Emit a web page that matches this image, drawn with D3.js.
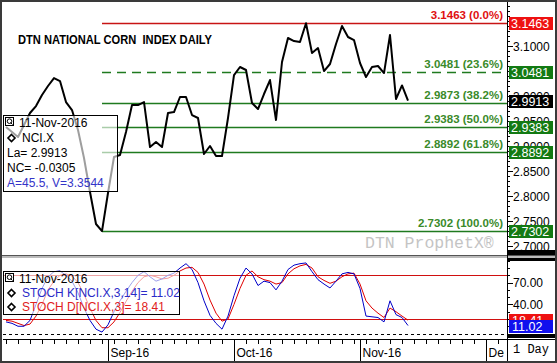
<!DOCTYPE html>
<html>
<head>
<meta charset="utf-8">
<script src="https://cdn.jsdelivr.net/npm/d3@7"></script>
<style>
  html, body { margin: 0; padding: 0; background: #fff; }
  svg { display: block; font-family: "Liberation Sans", Arial, sans-serif; }
</style>
</head>
<body>
<div id="chart"></div>
<script>
// daily closes, Aug 9 2016 .. Nov 11 2016 (trading days)
const closes = [2.9386, 2.9285, 2.9185, 2.9426, 2.9666, 2.9806, 3.0027, 3.0207, 3.0367, 3.0307,
  2.9886, 2.9726, 2.9326, 2.8765, 2.8084, 2.7443, 2.7302, 2.8064, 2.8785, 2.8825,
  2.9285, 2.9826, 2.9826, 2.9886, 2.8985, 2.9085, 2.8985, 2.9666, 2.9686, 2.9987,
  2.9987, 2.9626, 2.9566, 2.8845, 2.9005, 2.8805, 2.8805, 2.9566, 3.0427, 3.0588,
  3.0528, 2.9866, 2.9746, 3.0047, 3.0327, 2.9526, 3.0688, 3.1169, 3.1108, 3.1088,
  3.1463, 3.0868, 3.0968, 3.0507, 3.0648, 3.1048, 3.1409, 3.1189, 3.1128, 3.0668,
  3.0387, 3.0588, 3.0608, 3.0467, 3.1229, 2.9947, 3.0218, 2.9913];

const stochK = [16, 14, 10, 10, 18, 40, 62, 78, 85, 86,
  80, 72, 56, 35, 18, 6, 2, 12, 30, 45,
  58, 70, 80, 85, 78, 72, 75, 80, 83, 90,
  96, 88, 70, 45, 25, 14, 6, 24, 52, 76,
  90, 82, 66, 72, 70, 60, 72, 88, 94, 96,
  97, 85, 74, 68, 62.6, 72, 82, 84, 82, 62,
  24, 23, 22, 16, 45, 26, 22, 11.02];

const stochD = [18, 17, 14, 11, 13, 24, 40, 60, 72, 80,
  82, 79, 70, 54, 35, 18, 8, 8, 16, 29,
  44, 58, 70, 78, 80, 78, 75, 76, 80, 86,
  90, 91, 84, 68, 46, 28, 17, 20, 40, 62,
  80, 86, 78, 74, 72, 68, 70, 82, 89, 93,
  95, 90, 78, 73, 69, 72, 78, 82, 83, 68,
  45, 35, 28, 22, 35, 30, 24, 18.41];

const fibLevels = [3.1463, 3.0481, 2.9873, 2.9383, 2.8892, 2.7302];
const fibPct = ["0.0%", "23.6%", "38.2%", "50.0%", "61.8%", "100.0%"];
const fibStartIdx = 16;

const priceTicks = [3.10, 3.05, 3.00, 2.95, 2.90, 2.85, 2.80, 2.75, 2.70];
const stochTicks = [70, 40, 10];
const stochBands = [80, 20];

const monthLabels = ["Sep-16", "Oct-16", "Nov-16", "Dec-16"];
const monthStartIdx = [17, 38, 59, 80];

const lastClose = 2.9913;

const width = 557,
  height = 363,
  plotLeft = 3,
  plotRight = 507,
  mainTop = 3,
  mainBottom = 255,
  lowTop = 258,
  lowBottom = 339,
  axisBottom = 361;

const green = "#1f7a1f",
  fibText = "#3a8a2a",
  red = "#e01010";

const x = d3.scaleLinear().domain([-0.5, 83.5]).range([plotLeft, plotRight]);
const yP = d3.scaleLinear().domain([2.6822, 3.1870]).range([mainBottom, mainTop]);
const yS = d3.scaleLinear().domain([-7.5, 103.8]).range([lowBottom, lowTop]);

const svg = d3.select("#chart").append("svg")
  .attr("width", width)
  .attr("height", height);

svg.append("rect").attr("width", width).attr("height", height).attr("fill", "#fff");

// ---- main panel ----
svg.append("clipPath").attr("id", "clipMain")
  .append("rect").attr("x", plotLeft).attr("y", mainTop)
  .attr("width", plotRight - plotLeft).attr("height", mainBottom - mainTop);

svg.append("text")
  .attr("x", 18).attr("y", 44)
  .attr("font-weight", "bold").attr("font-size", 13)
  .attr("textLength", 194).attr("lengthAdjust", "spacingAndGlyphs")
  .style("white-space", "pre")
  .text("DTN NATIONAL CORN  INDEX DAILY");

svg.append("text")
  .attr("x", 365).attr("y", 248)
  .attr("font-family", "'Liberation Mono', 'Courier New', monospace")
  .attr("font-size", 16.5).attr("fill", "#c4c4c4")
  .text("DTN ProphetX\u00ae");

const fibG = svg.append("g").attr("class", "fib");
fibLevels.forEach((v, i) => {
  fibG.append("line")
    .attr("x1", x(fibStartIdx)).attr("x2", plotRight)
    .attr("y1", Math.round(yP(v)) + 0.5).attr("y2", Math.round(yP(v)) + 0.5)
    .attr("stroke", i === 0 ? "#c81414" : green)
    .attr("stroke-width", 1.3)
    .attr("stroke-dasharray", i === 1 ? "9,6" : null);
  fibG.append("text")
    .attr("x", 503).attr("y", yP(v) - 4)
    .attr("text-anchor", "end")
    .attr("font-weight", "bold").attr("font-size", 11.5)
    .attr("fill", i === 0 ? red : fibText)
    .text(`${v.toFixed(4)} (${fibPct[i]})`);
});

const priceLine = d3.line().x((d, i) => x(i)).y(d => yP(d));
svg.append("path")
  .datum(closes)
  .attr("clip-path", "url(#clipMain)")
  .attr("fill", "none")
  .attr("stroke", "#000")
  .attr("stroke-width", 2)
  .attr("stroke-linejoin", "round")
  .attr("d", priceLine);

// legend box, upper
const leg1 = svg.append("g");
leg1.append("rect")
  .attr("x", 3.5).attr("y", 115.5).attr("width", 114).attr("height", 76)
  .attr("fill", "#fff").attr("fill-opacity", 0.62)
  .attr("stroke", "#000");
const icon = (g, x0, y0) => {
  g.append("rect").attr("x", x0 + 0.5).attr("y", y0 + 0.5).attr("width", 8).attr("height", 8)
    .attr("fill", "#fff").attr("stroke", "#000");
  g.append("circle").attr("cx", x0 + 4.5).attr("cy", y0 + 4.2).attr("r", 2.3)
    .attr("fill", "none").attr("stroke", "#000");
  g.append("line").attr("x1", x0 + 5.5).attr("y1", y0 + 5.5).attr("x2", x0 + 7.5).attr("y2", y0 + 7.5)
    .attr("stroke", "#000");
};
const diamond = (g, cx, cy) => {
  g.append("path")
    .attr("d", `M${cx},${cy - 3.5}L${cx + 3.5},${cy}L${cx},${cy + 3.5}L${cx - 3.5},${cy}Z`)
    .attr("fill", "#fff").attr("stroke", "#000").attr("stroke-width", 1.6);
};
icon(leg1, 5, 117);
const l1rows = [
  {t: "11-Nov-2016", x: 19, y: 127, c: "#000"},
  {t: "NCI.X", x: 22, y: 142, c: "#000"},
  {t: "La= 2.9913", x: 7, y: 157, c: "#000"},
  {t: "NC= -0.0305", x: 7, y: 172, c: "#000"},
  {t: "A=45.5, V=3.3544", x: 7, y: 187, c: "#3434c8"}
];
leg1.selectAll("text.row").data(l1rows).enter().append("text")
  .attr("class", "row")
  .attr("x", d => d.x).attr("y", d => d.y)
  .attr("font-size", 12).attr("fill", d => d.c)
  .text(d => d.t);
diamond(leg1, 11.5, 138);

// ---- lower panel ----
svg.append("clipPath").attr("id", "clipLow")
  .append("rect").attr("x", plotLeft).attr("y", lowTop)
  .attr("width", plotRight - plotLeft).attr("height", lowBottom - lowTop);

stochBands.forEach(v => {
  svg.append("line")
    .attr("x1", plotLeft).attr("x2", plotRight)
    .attr("y1", Math.round(yS(v)) + 0.5).attr("y2", Math.round(yS(v)) + 0.5)
    .attr("stroke", "#d01010").attr("stroke-width", 1);
});
svg.append("line")
  .attr("x1", plotLeft).attr("x2", plotRight)
  .attr("y1", Math.round(yS(0)) + 0.5).attr("y2", Math.round(yS(0)) + 0.5)
  .attr("stroke", "#000").attr("stroke-dasharray", "3,3");

const stochLine = d3.line().x((d, i) => x(i)).y(d => yS(d));
svg.append("path").datum(stochD)
  .attr("clip-path", "url(#clipLow)")
  .attr("fill", "none").attr("stroke", "#e00000").attr("stroke-width", 1)
  .attr("d", stochLine);
svg.append("path").datum(stochK)
  .attr("clip-path", "url(#clipLow)")
  .attr("fill", "none").attr("stroke", "#0000c8").attr("stroke-width", 1)
  .attr("d", stochLine);

const leg2 = svg.append("g");
leg2.append("rect")
  .attr("x", 3.5).attr("y", 271.5).attr("width", 176).attr("height", 43)
  .attr("fill", "#fff").attr("fill-opacity", 0.62)
  .attr("stroke", "#000");
icon(leg2, 5, 273);
const l2rows = [
  {t: "11-Nov-2016", x: 19, y: 283, c: "#000"},
  {t: "STOCH K[NCI.X,3,14]= 11.02", x: 22, y: 297, c: "#2a2ac8"},
  {t: "STOCH D[NCI.X,3]= 18.41", x: 22, y: 311, c: "#e02020"}
];
leg2.selectAll("text.row").data(l2rows).enter().append("text")
  .attr("class", "row")
  .attr("x", d => d.x).attr("y", d => d.y)
  .attr("font-size", 12).attr("fill", d => d.c)
  .text(d => d.t);
diamond(leg2, 11.5, 293);
diamond(leg2, 11.5, 307);

// panel separator
svg.append("line").attr("x1", 2).attr("x2", 555).attr("y1", 255.5).attr("y2", 255.5).attr("stroke", "#555");
svg.append("line").attr("x1", 2).attr("x2", 555).attr("y1", 257).attr("y2", 257).attr("stroke", "#bbb").attr("stroke-width", 2);

// ---- x axis ----
svg.append("line").attr("x1", plotLeft).attr("x2", plotRight)
  .attr("y1", lowBottom + 0.5).attr("y2", lowBottom + 0.5).attr("stroke", "#000");
const minorIdx = d3.range(0, 84, 2);
svg.selectAll("line.xminor").data(minorIdx).enter().append("line")
  .attr("class", "xminor")
  .attr("x1", d => Math.round(x(d)) + 0.5).attr("x2", d => Math.round(x(d)) + 0.5)
  .attr("y1", lowBottom).attr("y2", lowBottom + 5)
  .attr("stroke", "#000");
svg.selectAll("line.xmonth").data(monthStartIdx).enter().append("line")
  .attr("class", "xmonth")
  .attr("x1", d => Math.round(x(d)) + 0.5).attr("x2", d => Math.round(x(d)) + 0.5)
  .attr("y1", lowBottom).attr("y2", axisBottom)
  .attr("stroke", "#000");
svg.append("clipPath").attr("id", "clipX")
  .append("rect").attr("x", plotLeft).attr("y", lowBottom).attr("width", plotRight - plotLeft - 3).attr("height", 22);
svg.selectAll("text.xlab").data(monthStartIdx).enter().append("text")
  .attr("class", "xlab")
  .attr("clip-path", "url(#clipX)")
  .attr("x", d => x(d) + 2.5).attr("y", 357)
  .attr("font-size", 12)
  .text((d, i) => monthLabels[i]);

// ---- right axes ----
svg.append("line").attr("x1", plotRight + 0.5).attr("x2", plotRight + 0.5)
  .attr("y1", 2).attr("y2", axisBottom).attr("stroke", "#000");

const pMinor = d3.range(270, 319).map(d => d / 100);
svg.selectAll("line.pminor").data(pMinor).enter().append("line")
  .attr("class", "pminor")
  .attr("x1", plotRight).attr("x2", plotRight + 3)
  .attr("y1", d => Math.round(yP(d)) + 0.5).attr("y2", d => Math.round(yP(d)) + 0.5)
  .attr("stroke", "#000");
svg.selectAll("line.pmajor").data(priceTicks).enter().append("line")
  .attr("class", "pmajor")
  .attr("x1", plotRight).attr("x2", plotRight + 6)
  .attr("y1", d => Math.round(yP(d)) + 0.5).attr("y2", d => Math.round(yP(d)) + 0.5)
  .attr("stroke", "#000");
svg.selectAll("text.plab").data(priceTicks).enter().append("text")
  .attr("class", "plab")
  .attr("x", 513).attr("y", d => yP(d) + 4.5)
  .attr("font-size", 12)
  .text(d => d.toFixed(4));

const boxes = [
  {v: 3.1463, fill: "#ee1111"},
  {v: 3.0481, fill: "#137a13"},
  {v: 2.9383, fill: "#137a13"},
  {v: 2.8892, fill: "#137a13"},
  {v: 2.7302, fill: "#137a13"},
  {v: lastClose, fill: "#000"}
];
const boxG = svg.selectAll("g.pbox").data(boxes).enter().append("g").attr("class", "pbox");
boxG.append("rect")
  .attr("x", 509).attr("y", d => Math.round(yP(d.v)) - 6)
  .attr("width", 44).attr("height", 13)
  .attr("fill", d => d.fill);
boxG.append("text")
  .attr("x", 511).attr("y", d => Math.round(yP(d.v)) + 5)
  .attr("font-size", 12.5).attr("fill", "#fff")
  .text(d => d.v.toFixed(4));

svg.append("rect").attr("x", 508).attr("y", 250).attr("width", 47).attr("height", 5).attr("fill", "#000");
svg.append("rect").attr("x", 508).attr("y", 258).attr("width", 47).attr("height", 3).attr("fill", "#000");

const sMinor = d3.range(0, 101, 10);
svg.selectAll("line.sminor").data(sMinor).enter().append("line")
  .attr("class", "sminor")
  .attr("x1", plotRight).attr("x2", plotRight + 3)
  .attr("y1", d => Math.round(yS(d)) + 0.5).attr("y2", d => Math.round(yS(d)) + 0.5)
  .attr("stroke", "#000");
svg.selectAll("line.smajor").data(stochTicks).enter().append("line")
  .attr("class", "smajor")
  .attr("x1", plotRight).attr("x2", plotRight + 6)
  .attr("y1", d => Math.round(yS(d)) + 0.5).attr("y2", d => Math.round(yS(d)) + 0.5)
  .attr("stroke", "#000");
svg.selectAll("text.slab").data(stochTicks).enter().append("text")
  .attr("class", "slab")
  .attr("x", 513).attr("y", d => yS(d) + 4.5)
  .attr("font-size", 12)
  .text(d => d.toFixed(2));

const sBoxes = [
  {v: stochD[stochD.length - 1], fill: "#ee1111"},
  {v: stochK[stochK.length - 1], fill: "#1010ee"}
];
const sBoxG = svg.selectAll("g.sbox").data(sBoxes).enter().append("g").attr("class", "sbox");
sBoxG.append("rect")
  .attr("x", 509).attr("y", d => Math.round(yS(d.v)) - 6)
  .attr("width", 44).attr("height", 13)
  .attr("fill", d => d.fill);
sBoxG.append("text")
  .attr("x", 512).attr("y", d => Math.round(yS(d.v)) + 5)
  .attr("font-size", 12.5).attr("fill", "#fff")
  .text(d => d.v.toFixed(2));

svg.append("rect").attr("x", 508).attr("y", 334).attr("width", 47).attr("height", 4).attr("fill", "#000");
svg.append("line").attr("x1", plotRight).attr("x2", 555).attr("y1", lowBottom + 0.5).attr("y2", lowBottom + 0.5).attr("stroke", "#000");

svg.append("text")
  .attr("x", 513).attr("y", 353)
  .attr("font-family", "'Liberation Mono', 'Courier New', monospace")
  .attr("font-size", 12)
  .style("white-space", "pre")
  .text("1 Day");

// outer frame
svg.append("rect")
  .attr("x", 1).attr("y", 1).attr("width", width - 2).attr("height", height - 2)
  .attr("fill", "none").attr("stroke", "#3a3a3a").attr("stroke-width", 2);
</script>
</body>
</html>
